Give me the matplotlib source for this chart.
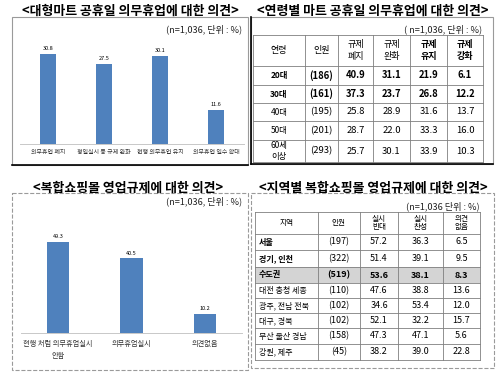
import matplotlib.pyplot as plt
from matplotlib.patches import Rectangle

plt.rcParams["font.family"] = ["Noto Sans CJK KR", "DejaVu Sans"]

W, H = 500, 379
BLUE = "#4f81bd"

# 대형마트 공휴일 의무휴업 의견
mart_cats = ["의무휴업 폐지", "평일실시 등 규제 완화", "현행 의무휴업 유지", "의무휴업 일수 확대"]
mart_vals = [30.8, 27.5, 30.1, 11.6]

# 연령별
age_header = ["연령", "인원", "규제\n폐지", "규제\n완화", "규제\n유지", "규제\n강화"]
age_groups = ["20대", "30대", "40대", "50대", "60세\n이상"]
age_n = [186, 161, 195, 201, 293]
age_abolish = [40.9, 37.3, 25.8, 28.7, 25.7]
age_ease = [31.1, 23.7, 28.9, 22.0, 30.1]
age_keep = [21.9, 26.8, 31.6, 33.3, 33.9]
age_strengthen = [6.1, 12.2, 13.7, 16.0, 10.3]

# 복합쇼핑몰 영업규제 의견
mall_cats = ["현행 처럼 의무휴업실시\n안함", "의무휴업실시", "의견없음"]
mall_vals = [49.3, 40.5, 10.2]

# 지역별
reg_header = ["지역", "인원", "실시\n반대", "실시\n찬성", "의견\n없음"]
regions = ["서울", "경기, 인천", "수도권", "대전 충청 세종", "광주, 전남 전북",
           "대구, 경북", "부산 울산 경남", "강원, 제주"]
reg_n = [197, 322, 519, 110, 102, 102, 158, 45]
reg_against = [57.2, 51.4, 53.6, 47.6, 34.6, 52.1, 47.3, 38.2]
reg_for = [36.3, 39.1, 38.1, 38.8, 53.4, 32.2, 47.1, 39.0]
reg_none = [6.5, 9.5, 8.3, 13.6, 12.0, 15.7, 5.6, 22.8]

fig = plt.figure(figsize=(W / 100, H / 100), dpi=100)
bg = fig.add_axes([0, 0, 1, 1])
bg.set_xlim(0, W)
bg.set_ylim(H, 0)
bg.axis("off")


def px_axes(x, y, w, h):
    return fig.add_axes([x / W, 1 - (y + h) / H, w / W, h / H])


# panel boxes
for (x0, y0, x1, y1), ls in [((12, 17, 248, 165), "-"), ((251, 17, 493, 164), "-"),
                             ((12, 193, 248, 370), "--"), ((251, 193, 494, 368), "--")]:
    bg.add_patch(Rectangle((x0, y0), x1 - x0, y1 - y0, fill=False, ec="#9a9a9a",
                           lw=0.8, ls=ls))
bg.plot([12, 248], [165, 165], color="black", lw=1.2)
bg.plot([251, 493], [164, 164], color="black", lw=1.2)
bg.plot([251, 251], [17, 164], color="black", lw=1.2)

# titles
for x, y, t in [(130, 11, "<대형마트 공휴일 의무휴업에 대한 의견>"),
                (373, 11, "<연령별 마트 공휴일 의무휴업에 대한 의견>"),
                (128, 188, "<복합쇼핑몰 영업규제에 대한 의견>"),
                (373, 188, "<지역별 복합쇼핑몰 영업규제에 대한 의견>")]:
    bg.text(x, y, t, ha="center", va="center", fontsize=9.3, fontweight="bold")

for x, y, t in [(242, 29, "(n=1,036, 단위 : %)"), (482, 29, "( n=1,036, 단위 : %)"),
                (242, 201, "(n=1,036, 단위 : %)"), (480, 206, "(n=1,036 단위 : %)")]:
    bg.text(x, y, t, ha="right", va="center", fontsize=6.6, color="#222222")


def bar_panel(rect, cats, vals, ymax, width, fs, pad):
    ax = px_axes(*rect)
    bars = ax.bar(range(len(vals)), vals, width, color=BLUE)
    ax.bar_label(bars, fmt="%.1f", fontsize=4, padding=2)
    ax.set_xlim(-0.5, len(vals) - 0.5)
    ax.set_ylim(0, ymax)
    ax.set_xticks(range(len(vals)))
    ax.set_xticklabels(cats, fontsize=fs, color="#333333", linespacing=1.6)
    ax.tick_params(length=0, pad=pad)
    ax.set_yticks([])
    for s in ["top", "left", "right"]:
        ax.spines[s].set_visible(False)
    ax.spines["bottom"].set_color("#c8c8c8")
    ax.spines["bottom"].set_linewidth(0.7)
    ax.patch.set_alpha(0)


bar_panel((20, 44, 224, 100), mart_cats, mart_vals, 34.2, 0.3, 4.3, 4)
bar_panel((21, 233, 221, 100), mall_cats, mall_vals, 54.3, 0.3, 5.2, 5)

# 연령별 table
cx = [253, 305, 338, 373, 410, 447, 483]
ry = [35, 66, 85, 103, 121, 140, 162]
for x in cx:
    bg.plot([x, x], [ry[0], ry[-1]], color="#7f7f7f", lw=0.6)
for y in ry:
    bg.plot([cx[0], cx[-1]], [y, y], color="#7f7f7f", lw=0.6)
for j, h in enumerate(age_header):
    bg.text((cx[j] + cx[j + 1]) / 2, (ry[0] + ry[1]) / 2, h, ha="center", va="center",
            fontsize=6.5, linespacing=1.5, fontweight="bold" if j >= 4 else "normal")
for i, g in enumerate(age_groups):
    cells = [g, f"({age_n[i]})", f"{age_abolish[i]:.1f}", f"{age_ease[i]:.1f}",
             f"{age_keep[i]:.1f}", f"{age_strengthen[i]:.1f}"]
    wt = "bold" if i < 2 else "normal"
    for j, c in enumerate(cells):
        bg.text((cx[j] + cx[j + 1]) / 2, (ry[i + 1] + ry[i + 2]) / 2, c, ha="center",
                va="center", fontsize=6.8 if j else 6, fontweight=wt, linespacing=1.2)

# 지역별 table
cx2 = [255, 318, 360, 398, 443, 480]
ry2 = [212, 234, 250, 267, 283, 298, 313, 328, 344, 360]
bg.add_patch(Rectangle((cx2[0], ry2[3]), cx2[-1] - cx2[0], ry2[4] - ry2[3],
                       color="#d4d4d4", lw=0))
for x in cx2:
    bg.plot([x, x], [ry2[0], ry2[-1]], color="#7f7f7f", lw=0.6)
for y in ry2:
    bg.plot([cx2[0], cx2[-1]], [y, y], color="#7f7f7f", lw=0.6)
for j, h in enumerate(reg_header):
    bg.text((cx2[j] + cx2[j + 1]) / 2, (ry2[0] + ry2[1]) / 2, h, ha="center",
            va="center", fontsize=5.5, linespacing=1.0)
for i, r in enumerate(regions):
    cells = [f"({reg_n[i]})", f"{reg_against[i]:.1f}", f"{reg_for[i]:.1f}",
             f"{reg_none[i]:.1f}"]
    yc = (ry2[i + 1] + ry2[i + 2]) / 2
    bg.text(cx2[0] + 4, yc, r, ha="left", va="center", fontsize=5.8,
            fontweight="bold" if i < 3 else "normal")
    for j, c in enumerate(cells):
        bg.text((cx2[j + 1] + cx2[j + 2]) / 2, yc, c, ha="center", va="center",
                fontsize=6.5, fontweight="bold" if i == 2 else "normal")

fig.savefig("out.png", dpi=100)
